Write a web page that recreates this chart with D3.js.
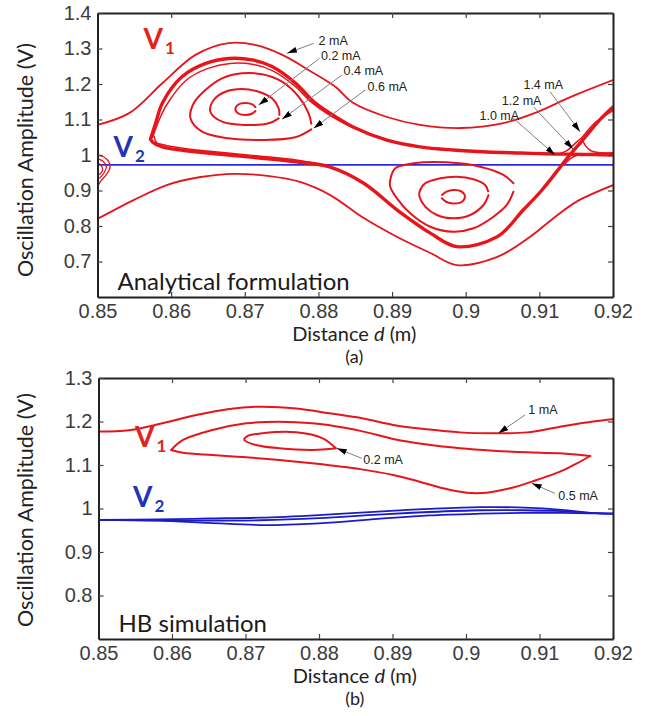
<!DOCTYPE html>
<html>
<head>
<meta charset="utf-8">
<script src="https://cdn.jsdelivr.net/npm/d3@7"></script>
<style>
  body { margin: 0; background: #fff; }
</style>
</head>
<body>
<div id="chart"></div>
<script>
// ---- tick labels ----
const xTicks = [0.85, 0.86, 0.87, 0.88, 0.89, 0.9, 0.91, 0.92];
const yTicksA = [0.7, 0.8, 0.9, 1, 1.1, 1.2, 1.3, 1.4];
const yTicksB = [0.8, 0.9, 1, 1.1, 1.2, 1.3];

// ---- (a) analytical formulation, [d, V] ----
const a2mATop = [[0.85,1.085],[0.8543,1.118],[0.8588,1.202],[0.8633,1.282],[0.8678,1.315],[0.8714,1.31],
  [0.8751,1.282],[0.8787,1.239],[0.8823,1.192],[0.8847,1.147],[0.8893,1.107],[0.8938,1.085],[0.8993,1.076],
  [0.9051,1.09],[0.9097,1.121],[0.9142,1.163],[0.92,1.211]];
const a2mABottom = [[0.85,0.82],[0.8549,0.873],[0.8595,0.916],[0.864,0.938],[0.8685,0.947],[0.8731,0.941],
  [0.8775,0.924],[0.8816,0.887],[0.8861,0.823],[0.8907,0.769],[0.8952,0.724],[0.8988,0.69],[0.9043,0.713],
  [0.9087,0.769],[0.9115,0.815],[0.915,0.868],[0.92,0.915]];
const aSepUpper = [[0.8572,1.045],[0.8579,1.09],[0.8588,1.146],[0.8615,1.221],[0.8647,1.258],[0.8678,1.272],
  [0.871,1.268],[0.8737,1.249],[0.8769,1.202],[0.8796,1.146],[0.8823,1.108],[0.8847,1.079],[0.8893,1.042],
  [0.8938,1.023],[0.8983,1.014],[0.9029,1.0085],[0.9074,1.0056],[0.9119,1.003],[0.9145,1.002],[0.9175,1.001],[0.92,1.0]];
const aSepUpper2 = [[0.8575,1.05],[0.8584,1.1],[0.8595,1.145],[0.862,1.21],[0.865,1.244],[0.868,1.258],
  [0.8712,1.255],[0.8738,1.237],[0.8767,1.196],[0.8792,1.146],[0.882,1.106],[0.8847,1.077]];
const aSepLower = [[0.8572,1.045],[0.8575,1.036],[0.8588,1.023],[0.8633,1.009],[0.8678,1.0],[0.8723,0.991],
  [0.8769,0.981],[0.8814,0.967],[0.8861,0.921],[0.8907,0.845],[0.8952,0.78],[0.8988,0.742],[0.9043,0.77],
  [0.9078,0.845],[0.9103,0.9],[0.9139,0.994],[0.9158,1.04],[0.9182,1.099],[0.92,1.135]];
const aSepLower2 = [[0.8577,1.052],[0.858,1.036],[0.8593,1.027],[0.8636,1.014],[0.868,1.005],[0.8725,0.996],
  [0.877,0.986],[0.8814,0.97]];
const aUp02 = [[0.87144,1.124],[0.87103,1.1169],[0.87008,1.1127],[0.86913,1.1169],[0.86872,1.1296],
  [0.86913,1.1423],[0.87008,1.1465],[0.87103,1.1423],[0.87144,1.1345]];
const aUp04 = [[0.8746,1.1034],[0.87324,1.0893],[0.87008,1.0845],[0.86692,1.0938],[0.86533,1.122],
  [0.86578,1.1549],[0.86737,1.1783],[0.86963,1.1859],[0.87188,1.1783],[0.8737,1.1597],[0.8746,1.1315],[0.8747,1.113]];
const aUp06 = [[0.87903,1.0724],[0.87686,1.05],[0.87234,1.0423],[0.86781,1.047],[0.8642,1.0656],[0.86262,1.1034],
  [0.86306,1.1456],[0.86465,1.1831],[0.86692,1.216],[0.86963,1.2301],[0.87234,1.2273],[0.87506,1.2065],
  [0.87731,1.1642],[0.87867,1.1174],[0.87903,1.088]];
const aLowSmall = [[0.89675,0.878],[0.8974,0.8676],[0.89831,0.8637],[0.89945,0.8676],[0.89989,0.8825],
  [0.89945,0.897],[0.89831,0.9014],[0.8974,0.897],[0.89678,0.8875]];
const aLowMid = [[0.90309,0.887],[0.90241,0.8592],[0.90061,0.831],[0.89834,0.8217],[0.89609,0.831],[0.8945,0.8544],
  [0.89373,0.8825],[0.89373,0.8966],[0.8945,0.9203],[0.89653,0.9344],[0.8988,0.9389],[0.90105,0.9315],
  [0.90264,0.9155],[0.90305,0.8975]];
const aLowOuter = [[0.90648,0.8966],[0.90558,0.8592],[0.90377,0.8262],[0.90105,0.7935],[0.89834,0.784],
  [0.89518,0.798],[0.89246,0.8358],[0.89066,0.878],[0.88975,0.9107],[0.88975,0.9296],[0.89043,0.9625],
  [0.89291,0.9766],[0.89744,0.9794],[0.90196,0.967],[0.90512,0.9437],[0.90648,0.9203]];
const aEdge1 = [[0.85,1.0],[0.8508,0.995],[0.8515,0.982],[0.8517,0.965],[0.8512,0.945],[0.8505,0.928],[0.8501,0.915]];
const aEdge2 = [[0.85,0.99],[0.8507,0.983],[0.8512,0.968],[0.8509,0.95],[0.8503,0.935]];
const aEdge3 = [[0.85,0.978],[0.8505,0.97],[0.8507,0.958],[0.8503,0.945]];
const aKnot1 = [[0.9135,0.975],[0.9142,0.99],[0.9152,1.0],[0.9168,1.004],[0.9185,1.005],[0.92,1.005]];
const aKnot2 = [[0.9158,1.045],[0.9163,1.025],[0.917,1.012],[0.918,1.007],[0.92,1.006]];
const aKnot3 = [[0.9128,1.004],[0.9138,1.013],[0.9147,1.03],[0.9158,1.05],[0.9175,1.09],[0.92,1.125]];
const aV2 = [[0.85,0.972],[0.92,0.972]];

// ---- (b) HB simulation, [d, V] ----
const b1mA = [[0.85,1.177],[0.8542,1.18],[0.8587,1.196],[0.8633,1.215],[0.8678,1.229],[0.8719,1.234],
  [0.8769,1.23],[0.8814,1.219],[0.886,1.207],[0.8901,1.192],[0.8947,1.182],[0.8992,1.175],[0.9037,1.173],
  [0.9083,1.175],[0.9128,1.188],[0.9173,1.2],[0.92,1.205]];
const b05Upper = [[0.8599,1.1345],[0.8615,1.1575],[0.8655,1.1805],[0.8701,1.1959],[0.8746,1.1995],[0.8791,1.1959],
  [0.8837,1.185],[0.8865,1.175],[0.8901,1.16],[0.8947,1.147],[0.8992,1.1384],[0.9037,1.1329],
  [0.9083,1.1292],[0.9128,1.1269],[0.9169,1.1207]];
const b05Lower = [[0.9169,1.1207],[0.9151,1.1039],[0.9128,1.0846],[0.9096,1.0655],[0.906,1.0464],[0.9028,1.0363],
  [0.9001,1.0363],[0.8969,1.0464],[0.8937,1.0616],[0.8901,1.077],[0.8856,1.0905],[0.8791,1.1039],
  [0.8746,1.1115],[0.8701,1.1177],[0.8655,1.123],[0.8615,1.1283],[0.8599,1.1345]];
const b02 = [[0.88231,1.1384],[0.87914,1.1345],[0.8746,1.1384],[0.87143,1.146],[0.86984,1.1575],[0.8702,1.166],
  [0.87234,1.1729],[0.87687,1.1752],[0.8805,1.1614],[0.88231,1.1384]];
const bV2a = [[0.85,0.974],[0.858,0.975],[0.865,0.977],[0.872,0.979],[0.88,0.985],[0.888,0.993],[0.895,0.999],
  [0.902,1.003],[0.908,1.002],[0.913,0.997],[0.917,0.99],[0.92,0.988]];
const bV2b = [[0.85,0.974],[0.858,0.973],[0.865,0.972],[0.872,0.973],[0.88,0.978],[0.888,0.986],[0.895,0.992],
  [0.902,0.996],[0.908,0.996],[0.913,0.994],[0.917,0.99],[0.92,0.988]];
const bV2c = [[0.85,0.974],[0.858,0.972],[0.865,0.967],[0.872,0.962],[0.88,0.966],[0.888,0.976],[0.895,0.984],
  [0.902,0.988],[0.908,0.99],[0.913,0.99],[0.917,0.989],[0.92,0.988]];

// ---- annotations: label, text anchor [d,V], line start [d,V], arrow tip [d,V] ----
const notesA = [
  ['2 mA', [0.88002,1.322], [0.87934,1.3146], [0.87574,1.2865]],
  ['0.2 mA', [0.88035,1.28], [0.88016,1.2724], [0.87188,1.1408]],
  ['0.4 mA', [0.88342,1.2366], [0.8832,1.2254], [0.87506,1.1006]],
  ['0.6 mA', [0.88668,1.1924], [0.88636,1.1831], [0.87934,1.0752]],
  ['1.4 mA', [0.90784,1.1972], [0.91146,1.1783], [0.91553,1.0656]],
  ['1.2 mA', [0.9049,1.1545], [0.90919,1.136], [0.91458,1.0169]],
  ['1.0 mA', [0.90187,1.1115], [0.90644,1.1042], [0.91213,1.0]]
];
const notesB = [
  ['1 mA', [0.90848,1.2264], [0.90803,1.2149], [0.90439,1.1729]],
  ['0.2 mA', [0.88603,1.1115], [0.88581,1.1154], [0.88241,1.1384]],
  ['0.5 mA', [0.91256,1.0287], [0.91211,1.0349], [0.90894,1.0579]]
];

const RED = '#e8141c';
const BLUE = '#2a2ae0';
const DARKBLUE = '#1c1cc4';
const LABEL_FONT = 'Lato, sans-serif';
const NOTE_FONT = '"Liberation Sans", Arial, sans-serif';
const TICK_FONT = '"Liberation Sans", Arial, sans-serif';

const svg = d3.select('#chart').append('svg')
  .attr('width', 652)
  .attr('height', 716);

svg.append('defs').append('marker')
  .attr('id', 'arrow')
  .attr('viewBox', '0 0 10 6')
  .attr('refX', 10).attr('refY', 3)
  .attr('markerWidth', 10).attr('markerHeight', 6)
  .attr('markerUnits', 'userSpaceOnUse')
  .attr('orient', 'auto')
  .append('path').attr('d', 'M0,0L10,3L0,6Z').attr('fill', '#000');

function drawPanel(cfg) {
  const x = d3.scaleLinear().domain([0.85, 0.92]).range([cfg.left, cfg.right]);
  const y = d3.scaleLinear().domain(cfg.yDomain).range([cfg.bottom, cfg.top]);
  const g = svg.append('g');

  g.append('clipPath').attr('id', cfg.id + '-clip')
    .append('rect')
    .attr('x', cfg.left).attr('y', cfg.top)
    .attr('width', cfg.right - cfg.left).attr('height', cfg.bottom - cfg.top);

  const plot = g.append('g').attr('clip-path', 'url(#' + cfg.id + '-clip)');
  const line = d3.line()
    .x(d => x(d[0]))
    .y(d => y(d[1]))
    .curve(d3.curveCatmullRom.alpha(0.5));

  cfg.curves.forEach(c => {
    plot.append('path')
      .attr('d', line(c.data))
      .attr('fill', 'none')
      .attr('stroke', c.color)
      .attr('stroke-width', c.width)
      .attr('stroke-linejoin', 'round')
      .attr('stroke-linecap', 'round');
  });

  // annotations
  cfg.notes.forEach(n => {
    g.append('line')
      .attr('x1', x(n[2][0])).attr('y1', y(n[2][1]))
      .attr('x2', x(n[3][0])).attr('y2', y(n[3][1]))
      .attr('stroke', '#808080')
      .attr('stroke-width', 1)
      .attr('marker-end', 'url(#arrow)');
    g.append('text')
      .attr('x', x(n[1][0])).attr('y', y(n[1][1]))
      .attr('dy', '0.35em')
      .style('font-family', NOTE_FONT)
      .style('font-size', '12.5px')
      .attr('fill', '#222')
      .text(n[0]);
  });

  // V labels
  cfg.vLabels.forEach(v => {
    const t = g.append('text')
      .attr('x', x(v.pos[0])).attr('y', y(v.pos[1]))
      .style('font-family', LABEL_FONT)
      .style('font-weight', 700)
      .attr('fill', v.color);
    t.append('tspan').style('font-size', '28px').text('V');
    t.append('tspan').style('font-size', '17px').attr('dx', 2).attr('dy', 5).text(v.sub);
  });

  // inner note ("Analytical formulation" / "HB simulation")
  g.append('text')
    .attr('x', cfg.left + 20).attr('y', cfg.bottom - 7)
    .style('font-family', LABEL_FONT)
    .style('font-size', '24px')
    .attr('fill', '#1a1a1a')
    .text(cfg.title);

  // axes: box with inward ticks
  const styleAxis = (sel) => {
    sel.select('.domain').attr('stroke', '#222').attr('stroke-width', 2);
    sel.selectAll('.tick line').attr('stroke', '#444').attr('stroke-width', 1.2);
    sel.selectAll('.tick text')
      .style('font-family', TICK_FONT)
      .style('font-size', '20px')
      .attr('fill', '#3c3c3c');
  };

  g.append('g')
    .attr('transform', 'translate(0,' + cfg.bottom + ')')
    .call(d3.axisBottom(x).tickValues(xTicks).tickSizeInner(-5).tickSizeOuter(0)
      .tickPadding(7).tickFormat(d => String(d)))
    .call(styleAxis);
  g.append('g')
    .attr('transform', 'translate(0,' + cfg.top + ')')
    .call(d3.axisTop(x).tickValues(xTicks).tickSizeInner(-5).tickSizeOuter(0).tickFormat(''))
    .call(styleAxis);
  g.append('g')
    .attr('transform', 'translate(' + cfg.left + ',0)')
    .call(d3.axisLeft(y).tickValues(cfg.yTicks).tickSizeInner(-5).tickSizeOuter(0)
      .tickPadding(6).tickFormat(d => String(d)))
    .call(styleAxis);
  g.append('g')
    .attr('transform', 'translate(' + cfg.right + ',0)')
    .call(d3.axisRight(y).tickValues(cfg.yTicks).tickSizeInner(-5).tickSizeOuter(0).tickFormat(''))
    .call(styleAxis);

  // axis titles
  g.append('text')
    .attr('transform', 'translate(33,' + cfg.yLabelMid + ') rotate(-90)')
    .attr('text-anchor', 'middle')
    .style('font-family', LABEL_FONT)
    .style('font-size', '21.5px')
    .attr('fill', '#222')
    .text('Oscillation Amplitude (V)');

  const xt = g.append('text')
    .attr('x', (cfg.left + cfg.right) / 2 - 1).attr('y', cfg.bottom + 44)
    .attr('text-anchor', 'middle')
    .style('font-family', LABEL_FONT)
    .style('font-size', '20px')
    .attr('fill', '#222');
  xt.append('tspan').text('Distance ');
  xt.append('tspan').style('font-style', 'italic').text('d');
  xt.append('tspan').text(' (m)');

  g.append('text')
    .attr('x', (cfg.left + cfg.right) / 2 - 1).attr('y', cfg.bottom + 66)
    .attr('text-anchor', 'middle')
    .style('font-family', LABEL_FONT)
    .style('font-size', '18px')
    .attr('fill', '#222')
    .text(cfg.tag);
}

drawPanel({
  id: 'a', left: 97.5, right: 613, top: 13, bottom: 297,
  yDomain: [0.6, 1.4], yTicks: yTicksA, yLabelMid: 160,
  title: 'Analytical formulation', tag: '(a)',
  curves: [
    { data: aV2, color: BLUE, width: 1.8 },
    { data: a2mATop, color: RED, width: 1.8 },
    { data: a2mABottom, color: RED, width: 1.8 },
    { data: aUp02, color: RED, width: 2 },
    { data: aUp04, color: RED, width: 2 },
    { data: aUp06, color: RED, width: 2 },
    { data: aLowSmall, color: RED, width: 2 },
    { data: aLowMid, color: RED, width: 2 },
    { data: aLowOuter, color: RED, width: 2 },
    { data: aEdge1, color: RED, width: 1.3 },
    { data: aEdge2, color: RED, width: 1.3 },
    { data: aEdge3, color: RED, width: 1.3 },
    { data: aSepUpper2, color: RED, width: 1.5 },
    { data: aSepLower2, color: RED, width: 1.5 },
    { data: aSepUpper, color: RED, width: 3.4 },
    { data: aSepLower, color: RED, width: 3.4 },
    { data: aKnot1, color: RED, width: 1.5 },
    { data: aKnot2, color: RED, width: 1.5 },
    { data: aKnot3, color: RED, width: 1.5 }
  ],
  notes: notesA,
  vLabels: [
    { pos: [0.85624, 1.3], sub: '1', color: '#e2231a' },
    { pos: [0.85217, 0.9944], sub: '2', color: '#2233bb' }
  ]
});

drawPanel({
  id: 'b', left: 98.5, right: 613, top: 378, bottom: 639,
  yDomain: [0.7, 1.3], yTicks: yTicksB, yLabelMid: 510,
  title: 'HB simulation', tag: '(b)',
  curves: [
    { data: bV2a, color: DARKBLUE, width: 1.8 },
    { data: bV2b, color: DARKBLUE, width: 1.8 },
    { data: bV2c, color: DARKBLUE, width: 1.8 },
    { data: b1mA, color: RED, width: 2 },
    { data: b05Upper, color: RED, width: 2 },
    { data: b05Lower, color: RED, width: 2 },
    { data: b02, color: RED, width: 2 }
  ],
  notes: notesB,
  vLabels: [
    { pos: [0.85497, 1.1414], sub: '1', color: '#e2231a' },
    { pos: [0.8547, 1.0034], sub: '2', color: '#2233bb' }
  ]
});
</script>
</body>
</html>
